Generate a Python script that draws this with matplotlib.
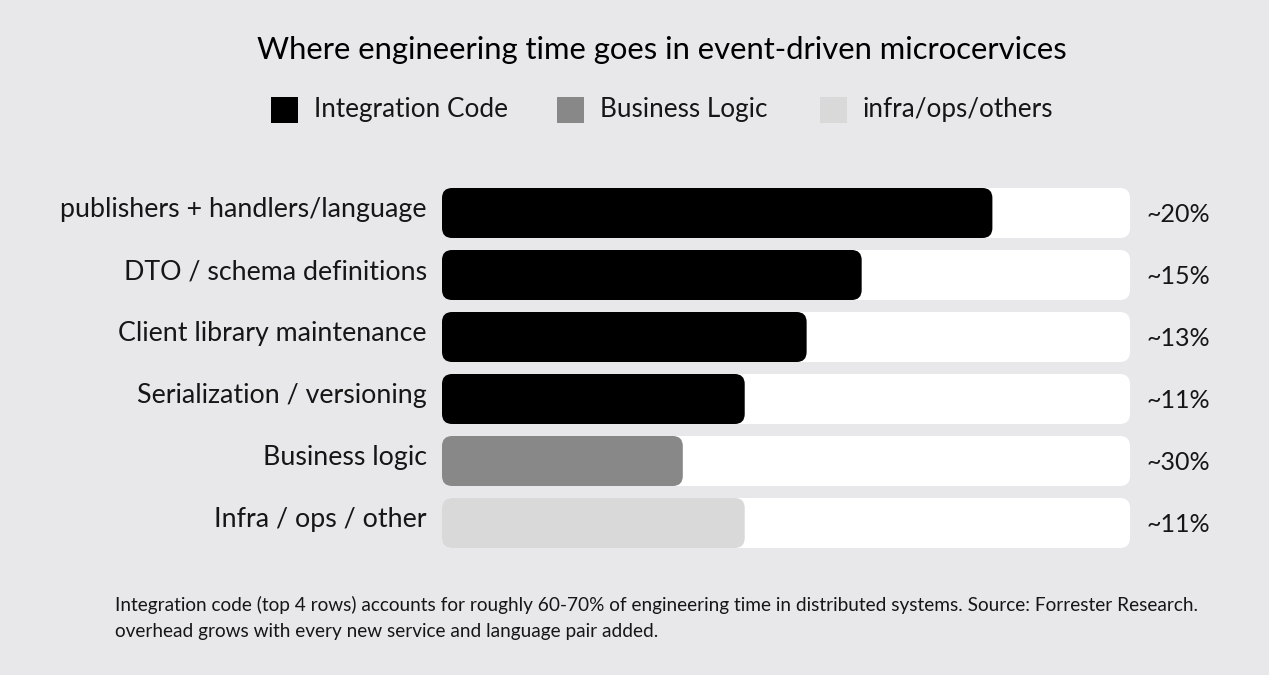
import matplotlib
matplotlib.use("Agg")
import matplotlib.pyplot as plt
from matplotlib.patches import FancyBboxPatch, Rectangle

plt.rcParams["font.family"] = ["Lato", "DejaVu Sans"]

# =========================
# DATA
# =========================
TITLE = "Where engineering time goes in event-driven microcervices"
categories = [
    "publishers + handlers/language",
    "DTO / schema definitions",
    "Client library maintenance",
    "Serialization / versioning",
    "Business logic",
    "Infra / ops / other",
]
fill_share = [0.80, 0.61, 0.53, 0.44, 0.35, 0.44]
pct_labels = ["~20%", "~15%", "~13%", "~11%", "~30%", "~11%"]
groups = ["integration", "integration", "integration", "integration", "business", "infra"]

legend_names = ["Integration Code", "Business Logic", "infra/ops/others"]
FOOTNOTE = ("Integration code (top 4 rows) accounts for roughly 60-70% of engineering time in distributed systems. "
            "Source: Forrester Research.\noverhead grows with every new service and language pair added.")

# =========================
# STYLE
# =========================
BG = "#e8e8ea"
TRACK = "#ffffff"
COLORS = {"integration": "#000000", "business": "#888888", "infra": "#d9d9d9"}
TEXT = "#161616"

W, H = 1269, 675
fig = plt.figure(figsize=(W / 100, H / 100), dpi=100, facecolor=BG)

# axes covers the bar tracks: x 442..1130 px, rows centred 213..523 px
ax_left, ax_right = 442, 1130
ax_top, ax_bot = 182, 554
ax = fig.add_axes([ax_left / W, 1 - ax_bot / H, (ax_right - ax_left) / W, (ax_bot - ax_top) / H])
ax.set_xlim(0, 1)
ax.set_ylim(len(categories) - 0.5, -0.5)
ax.axis("off")

px_x = 1 / (ax_right - ax_left)
px_y = len(categories) / (ax_bot - ax_top)
aspect = px_y / px_x
radius = 10 * px_x
bar_h = 50 * px_y

for i, (cat, share, lab, grp) in enumerate(zip(categories, fill_share, pct_labels, groups)):
    track = FancyBboxPatch((0, i - bar_h / 2), 1, bar_h,
                           boxstyle=f"round,pad=0,rounding_size={radius}",
                           mutation_aspect=aspect, fc=TRACK, ec="none")
    ax.add_patch(track)
    fill = FancyBboxPatch((0, i - bar_h / 2), share, bar_h,
                          boxstyle=f"round,pad=0,rounding_size={radius}",
                          mutation_aspect=aspect, fc=COLORS[grp], ec="none")
    ax.add_patch(fill)
    ax.text(-15 * px_x, i - 0.05, cat, ha="right", va="center", fontsize=19.3,
            color=TEXT, clip_on=False)
    ax.text(1 + 17 * px_x, i + 0.03, lab, ha="left", va="center", fontsize=18,
            color=TEXT, clip_on=False)

# =========================
# TITLE + LEGEND
# =========================
fig.text(662 / W, 1 - 50 / H, TITLE, ha="center", va="center", fontsize=22.3, color="#000000")

legend_x = [271, 557, 820]
for name, grp, lx in zip(legend_names, ["integration", "business", "infra"], legend_x):
    fig.patches.append(Rectangle((lx / W, 1 - 123 / H), 27 / W, 26 / H,
                                 transform=fig.transFigure, fc=COLORS[grp], ec="none"))
    fig.text((lx + 43) / W, 1 - 110 / H, name, ha="left", va="center", fontsize=18.8,
             color=TEXT)

# =========================
# FOOTNOTE
# =========================
fig.text(115 / W, 1 - 618 / H, FOOTNOTE, ha="left", va="center", fontsize=13.7,
         color=TEXT, linespacing=1.6)

fig.savefig("out.png", dpi=100, facecolor=BG)
